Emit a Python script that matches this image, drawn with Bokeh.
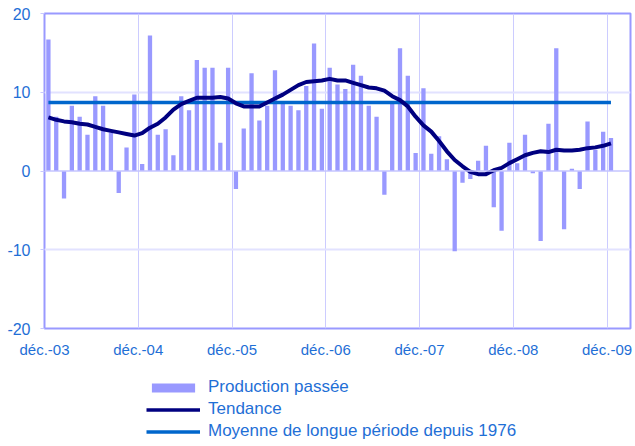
from bokeh.plotting import figure
from bokeh.models import ColumnDataSource, Legend, LegendItem, FixedTicker, Span
from bokeh.layouts import column
from bokeh.embed import file_html
from bokeh.resources import INLINE

# Monthly data, déc.-03 .. déc.-09 (73 months)
production = [16.7, 6.9, -3.5, 8.3, 6.9, 4.6, 9.5, 8.3, 4.9, -2.8, 3.0, 9.7,
              0.9, 17.2, 4.6, 5.3, 2.0, 9.5, 7.7, 14.1, 13.1, 13.1, 3.6, 13.1,
              -2.3, 5.4, 12.4, 6.4, 8.3, 12.8, 8.8, 8.3, 7.7, 10.8, 16.2, 7.9,
              13.1, 11.0, 10.4, 13.5, 12.1, 8.3, 6.9, -3.0, 8.7, 15.6, 12.1, 2.3,
              10.5, 2.2, 4.4, 1.5, -10.2, -1.5, -1.0, 1.3, 3.2, -4.6, -7.6, 3.6,
              1.0, 4.6, -0.3, -8.9, 6.0, 15.6, -7.4, 0.3, -2.3, 6.3, 2.7, 5.0,
              4.2]
tendance = [6.8, 6.5, 6.3, 6.2, 6.0, 5.9, 5.6, 5.3, 5.1, 4.9, 4.7, 4.5,
            4.8, 5.5, 6.0, 6.8, 7.8, 8.5, 8.9, 9.3, 9.3, 9.3, 9.4, 9.2,
            8.6, 8.2, 8.2, 8.2, 8.7, 9.2, 9.7, 10.3, 10.9, 11.3, 11.4, 11.5,
            11.7, 11.5, 11.5, 11.2, 10.9, 10.6, 10.5, 10.2, 9.5, 9.0, 8.2, 6.9,
            5.8, 5.0, 3.8, 2.5, 1.4, 0.6, -0.1, -0.4, -0.4, 0.1, 0.4, 1.0,
            1.5, 2.0, 2.3, 2.5, 2.4, 2.7, 2.6, 2.6, 2.7, 2.9, 3.0, 3.2,
            3.5]
moyenne = 8.7
tick_labels = ["déc.-03", "déc.-04", "déc.-05", "déc.-06", "déc.-07", "déc.-08", "déc.-09"]
y_ticks = [-20, -10, 0, 10, 20]
n_categories = 75

x = [i + 0.5 for i in range(len(production))]
src = ColumnDataSource(dict(x=x, prod=production, tend=tendance,
                            moy=[moyenne] * len(production)))

TEXT = "#1f6fd6"
FONT = "Liberation Sans"
BAR = "#9999FF"
TREND = "#000080"
MEAN = "#0066CC"

p = figure(width=635, height=360, output_backend="svg", toolbar_location=None,
           x_range=(0, n_categories), y_range=(-20, 20),
           min_border_left=44, min_border_right=5, min_border_top=13,
           min_border_bottom=32)

p.outline_line_color = BAR
p.outline_line_width = 2

# grids
p.xgrid.ticker = FixedTicker(ticks=[12 * k for k in range(1, 7)])
p.xgrid.grid_line_color = "#CCCCFF"
p.xgrid.grid_line_width = 1
p.ygrid.ticker = FixedTicker(ticks=[-10, 10])
p.ygrid.grid_line_color = "#E2E2FF"
p.ygrid.grid_line_width = 2
p.add_layout(Span(location=0, dimension="width", line_color="#C4C4FF", line_width=1.5))

# axes
p.xaxis.ticker = FixedTicker(ticks=[12 * k for k in range(7)])
p.xaxis.major_label_overrides = {12 * k: lab for k, lab in enumerate(tick_labels)}
p.xaxis.axis_line_color = None
p.xaxis.major_tick_line_color = None
p.xaxis.minor_tick_line_color = None
p.xaxis.major_label_standoff = 6
p.xaxis.major_label_text_font = FONT
p.xaxis.major_label_text_font_size = "15px"
p.xaxis.major_label_text_color = TEXT

p.yaxis.ticker = FixedTicker(ticks=y_ticks)
p.yaxis.major_label_overrides = {t: str(t) for t in y_ticks}
p.yaxis.axis_line_color = None
p.yaxis.major_tick_in = 0
p.yaxis.major_tick_out = 4
p.yaxis.major_tick_line_color = "#C8C8FF"
p.yaxis.minor_tick_line_color = None
p.yaxis.major_label_standoff = 10
p.yaxis.major_label_text_font = FONT
p.yaxis.major_label_text_font_size = "16px"
p.yaxis.major_label_text_color = TEXT

p.vbar(x="x", top="prod", bottom=0, width=0.55, source=src,
       fill_color=BAR, line_color=None)
p.line(x="x", y="moy", source=src, line_color=MEAN, line_width=3.5)
p.line(x="x", y="tend", source=src, line_color=TREND, line_width=4,
       line_join="round")

# legend panel below the chart
lg = figure(width=635, height=86, output_backend="svg", toolbar_location=None,
            x_range=(0, 1), y_range=(0, 1), x_axis_location=None,
            y_axis_location=None, min_border=0)
lg.outline_line_color = None
lg.xgrid.visible = False
lg.ygrid.visible = False
offscreen = ColumnDataSource(dict(x=[-10, -9], top=[-10, -10], y=[-10, -10]))
r_bar = lg.vbar(x="x", top="top", width=0.5, source=offscreen, fill_color=BAR, line_color=None)
r_trend = lg.line(x="x", y="y", source=offscreen, line_color=TREND, line_width=3.5)
r_mean = lg.line(x="x", y="y", source=offscreen, line_color=MEAN, line_width=3.5)

legend = Legend(items=[
    LegendItem(label="Production passée", renderers=[r_bar]),
    LegendItem(label="Tendance", renderers=[r_trend]),
    LegendItem(label="Moyenne de longue période depuis 1976", renderers=[r_mean]),
], location=(102, 5))
legend.border_line_color = None
legend.background_fill_alpha = 0
legend.padding = 0
legend.margin = 0
legend.spacing = 2
legend.glyph_width = 54
legend.glyph_height = 11
legend.label_height = 18
legend.label_standoff = 8
legend.label_text_font = FONT
legend.label_text_font_size = "17px"
legend.label_text_color = TEXT
lg.add_layout(legend, "center")

layout = column(p, lg, spacing=0)
open("out.html", "w").write(file_html(layout, INLINE))
